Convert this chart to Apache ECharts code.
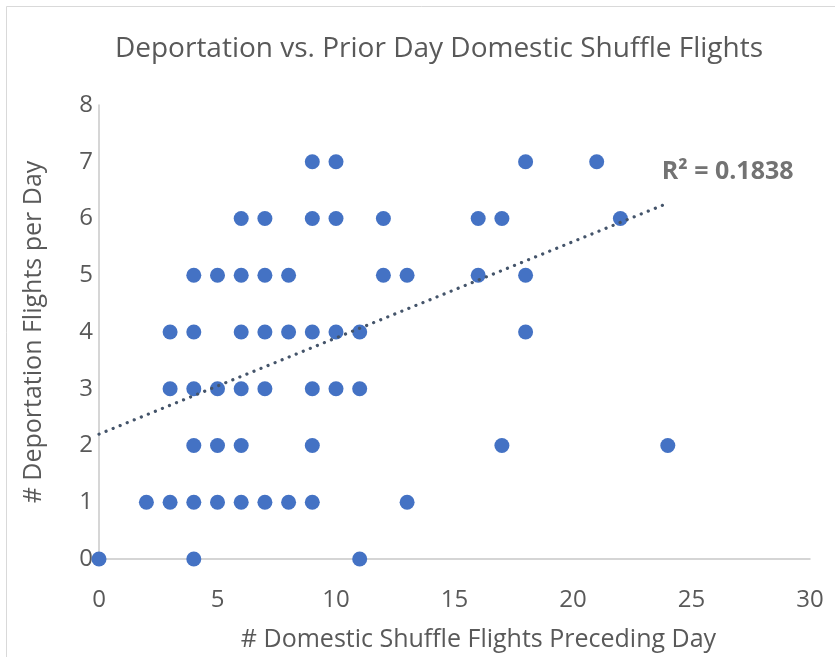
<!DOCTYPE html>
<html>
<head>
<meta charset="utf-8">
<script src="https://cdn.jsdelivr.net/npm/echarts@6/dist/echarts.min.js"></script>
<style>html,body{margin:0;padding:0;background:#fff}#c{width:835px;height:657px}</style>
</head>
<body>
<div id="c"></div>
<script>
// Data: x values of the points at each y level
const yLevel7 = [9, 10, 18, 21];
const yLevel6 = [6, 7, 9, 10, 12, 16, 17, 22];
const yLevel5 = [4, 5, 6, 7, 8, 12, 13, 16, 18];
const yLevel4 = [3, 4, 6, 7, 8, 9, 10, 11, 18];
const yLevel3 = [3, 4, 5, 6, 7, 9, 10, 11];
const yLevel2 = [4, 5, 6, 9, 17, 24];
const yLevel1 = [2, 3, 4, 5, 6, 7, 8, 9, 13];
const yLevel0 = [0, 4, 11];
const levels = [[0, yLevel0], [1, yLevel1], [2, yLevel2], [3, yLevel3], [4, yLevel4], [5, yLevel5], [6, yLevel6], [7, yLevel7]];

// Linear trendline as shown in the reference
const trendIntercept = 2.2;
const trendSlope = 0.1696;
const trendRange = [0, 24];
const rSquaredText = 'R² = 0.1838';
const rSquaredAnchor = [23.72, 6.83];

const xTicks = [0, 30, 5];
const yTicks = [0, 8, 1];

const points = [];
levels.forEach(([y, xs]) => xs.forEach(x => points.push([x, y])));
const trend = trendRange.map(x => [x, trendIntercept + trendSlope * x]);

const font = '"Open Sans", Lato, sans-serif';
const grey = '#595959';
const chart = echarts.init(document.getElementById('c'));
chart.setOption({
  animation: false,
  backgroundColor: '#fff',
  graphic: [{
    type: 'rect', shape: {x: 6.5, y: 6.5, width: 840, height: 680},
    style: {fill: 'none', stroke: '#D9D9D9', lineWidth: 1}
  }],
  title: {
    text: 'Deportation vs. Prior Day Domestic Shuffle Flights',
    left: 434, top: 30, textAlign: 'center',
    textStyle: {fontFamily: font, fontWeight: 'normal', fontSize: 28, color: grey}
  },
  grid: {left: 99, right: 25, top: 105, bottom: 95},
  xAxis: {
    type: 'value', min: xTicks[0], max: xTicks[1], interval: xTicks[2],
    name: '# Domestic Shuffle Flights Preceding Day',
    nameLocation: 'middle', nameGap: 68,
    nameTextStyle: {fontFamily: font, fontSize: 25, color: grey, padding: [0, 0, 0, 48]},
    axisLine: {lineStyle: {color: '#C8C8C8', width: 1.5}},
    axisTick: {show: false},
    splitLine: {show: false},
    axisLabel: {fontFamily: font, fontSize: 24, color: grey, margin: 29}
  },
  yAxis: {
    type: 'value', min: yTicks[0], max: yTicks[1], interval: yTicks[2],
    name: '# Deportation Flights per Day',
    nameLocation: 'middle', nameGap: 53,
    nameTextStyle: {fontFamily: font, fontSize: 25, color: grey},
    axisLine: {show: true, lineStyle: {color: '#C8C8C8', width: 1.5}},
    axisTick: {show: false},
    splitLine: {show: false},
    axisLabel: {fontFamily: font, fontSize: 24, color: grey, margin: 6}
  },
  series: [{
    type: 'line', data: trend, symbol: 'none', silent: true, z: 3,
    lineStyle: {color: '#44546A', width: 3.2, type: [0.1, 7.5], cap: 'round'}
  }, {
    type: 'scatter', data: points, symbolSize: 15, z: 2,
    itemStyle: {color: '#4472C4', opacity: 1}
  }, {
    type: 'scatter', data: [rSquaredAnchor], symbolSize: 1, silent: true, z: 4,
    itemStyle: {color: 'rgba(0,0,0,0)'},
    label: {show: true, formatter: rSquaredText, position: 'right', distance: 0,
      fontFamily: font, fontSize: 25, fontWeight: 'bold', color: '#505050'}
  }]
});
</script>
</body>
</html>
